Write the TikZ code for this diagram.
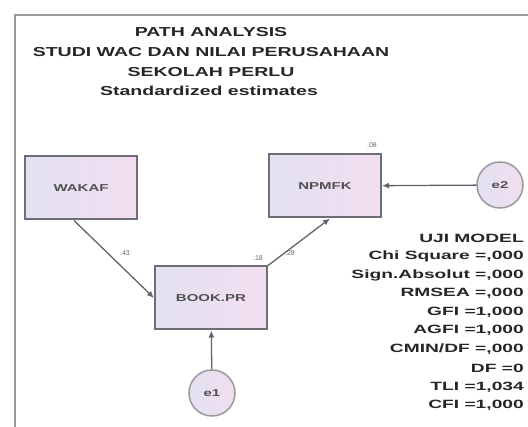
\documentclass[tikz,border=0pt]{standalone}
\usepackage{fontspec}
\usepackage{graphicx}
\setmainfont{Liberation Sans}
\usetikzlibrary{arrows.meta}
\definecolor{framegray}{HTML}{9A9A9A}
\definecolor{boxborder}{HTML}{6E6E78}
\definecolor{boxleft}{HTML}{E2E2F2}
\definecolor{boxright}{HTML}{F3DCF0}
\definecolor{textgray}{HTML}{262626}
\newcommand{\wtxt}[1]{\scalebox{1.5}[1]{#1}}
\newcommand{\ftxt}[1]{\scalebox{1.6}[1]{#1}}
\tikzset{
  varbox/.style={draw=boxborder, line width=2pt, left color=boxleft, right color=boxright,
    minimum width=112pt, minimum height=63pt, inner sep=0pt,
    font=\fontsize{10}{11}\selectfont\bfseries, text=textgray!80},
  errcirc/.style={circle, draw=framegray, line width=1.5pt, left color=boxleft, right color=boxright,
    minimum size=46pt, inner sep=0pt, font=\fontsize{10}{11}\selectfont\bfseries, text=textgray!80},
  path/.style={draw=boxborder!90!black, line width=1.3pt, -{Latex[length=7pt,width=6pt]}},
  coef/.style={font=\fontsize{7}{8}\selectfont, text=textgray!70, inner sep=1pt},
  titletxt/.style={font=\fontsize{13}{14}\selectfont\bfseries, text=textgray, inner sep=0pt},
  fittxt/.style={font=\fontsize{12}{13}\selectfont\bfseries, text=textgray, anchor=east, inner sep=0pt}
}
\begin{document}
\begin{tikzpicture}[x=1pt,y=-1pt]
\useasboundingbox[fill=white] (0,0) rectangle (528,427);
% frame
\draw[framegray, line width=2pt] (15,427) -- (15,15.5) -- (528,15.5);
% title
\node[titletxt] (t1) at (211,32) {\wtxt{PATH ANALYSIS}};
\node[titletxt] (t2) at (211,52) {\wtxt{STUDI WAC DAN NILAI PERUSAHAAN}};
\node[titletxt] (t3) at (211,72) {\wtxt{SEKOLAH PERLU}};
\node[titletxt] (t4) at (209,91) {\wtxt{Standardized estimates}};
% variables
\node[varbox] (wak) at (81,188) {\wtxt{WAKAF}};
\node[varbox] (npm) at (325,186) {\wtxt{NPMFK}};
\node[varbox] (bok) at (211,298) {\wtxt{BOOK.PR}};
\node[errcirc] (e1) at (212,393) {\wtxt{e1}};
\node[errcirc] (e2) at (500,185) {\wtxt{e2}};
% paths
\draw[path] (wak.south west) ++(50,0) coordinate (wa) (wa) -- (bok.west |- 0,298) ;
\draw[path] (bok.north east) -- ([xshift=5pt]npm.south);
\draw[path] (e1) -- (bok);
\draw[path] (e2) -- (npm);
% coefficients
\node[coef] (c1) at (125,253) {.43};
\node[coef] (c2) at (290,253) {.28};
\node[coef] (c3) at (258,258) {.18};
\node[coef] (c4) at (372,145) {.08};
% fit
\node[fittxt] (f1) at (524,238) {\ftxt{UJI MODEL}};
\node[fittxt] (f2) at (524,256) {\ftxt{Chi Square =,000}};
\node[fittxt] (f3) at (524,275) {\ftxt{Sign.Absolut =,000}};
\node[fittxt] (f4) at (524,293) {\ftxt{RMSEA =,000}};
\node[fittxt] (f5) at (524,312) {\ftxt{GFI =1,000}};
\node[fittxt] (f6) at (524,330) {\ftxt{AGFI =1,000}};
\node[fittxt] (f7) at (524,349) {\ftxt{CMIN/DF =,000}};
\node[fittxt] (f8) at (524,368) {\ftxt{DF =0}};
\node[fittxt] (f9) at (524,387) {\ftxt{TLI =1,034}};
\node[fittxt] (f10) at (524,405) {\ftxt{CFI =1,000}};
\end{tikzpicture}
\end{document}
